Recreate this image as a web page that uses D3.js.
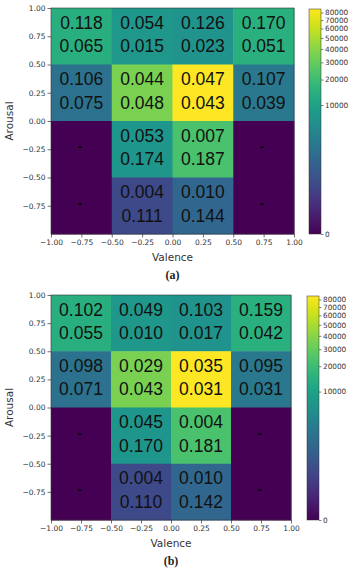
<!DOCTYPE html>
<html>
<head>
<meta charset="utf-8">
<script src="https://cdn.jsdelivr.net/npm/d3@7"></script>
<style>
  body { margin: 0; background: #fff; }
  svg text { fill: #222; }
</style>
</head>
<body>
<div id="chart"></div>
<script>
// bin edges
var valenceEdges = [-1, -0.5, 0, 0.5, 1];
var arousalEdges = [1, 0.5, 0, -0.5, -1];
var axisTicksX = [-1, -0.75, -0.5, -0.25, 0, 0.25, 0.5, 0.75, 1];
var axisTicksY = [1, 0.75, 0.5, 0.25, 0, -0.25, -0.5, -0.75];
var cbarTicks = [0, 10000, 20000, 30000, 40000, 50000, 60000, 70000, 80000];

// counts per cell, rows from top (arousal 0.5..1) down, columns left to right
var countsA = [
  [14500, 7600, 6600, 14800],
  [2000, 36000, 84000, 2500],
  [0, 7200, 23000, 0],
  [0, 260, 1200, 0]
];
var topA = [
  ["0.118", "0.054", "0.126", "0.170"],
  ["0.106", "0.044", "0.047", "0.107"],
  ["", "0.053", "0.007", ""],
  ["", "0.004", "0.010", ""]
];
var bottomA = [
  ["0.065", "0.015", "0.023", "0.051"],
  ["0.075", "0.048", "0.043", "0.039"],
  ["", "0.174", "0.187", ""],
  ["", "0.111", "0.144", ""]
];

var countsB = [
  [14500, 7600, 6600, 14800],
  [2000, 36000, 84000, 2500],
  [0, 7200, 23000, 0],
  [0, 260, 1200, 0]
];
var topB = [
  ["0.102", "0.049", "0.103", "0.159"],
  ["0.098", "0.029", "0.035", "0.095"],
  ["", "0.045", "0.004", ""],
  ["", "0.004", "0.010", ""]
];
var bottomB = [
  ["0.055", "0.010", "0.017", "0.042"],
  ["0.071", "0.043", "0.031", "0.031"],
  ["", "0.170", "0.181", ""],
  ["", "0.110", "0.142", ""]
];

var svg = d3.select("#chart").append("svg")
  .attr("width", 354)
  .attr("height", 568);

var defs = svg.append("defs");

function drawPanel(p) {
  var x = d3.scaleLinear().domain([-1, 1]).range([p.left, p.right]);
  var y = d3.scaleLinear().domain([-1, 1]).range([p.bottom, p.top]);
  var color = d3.scalePow().exponent(0.26).domain([0, 85000]).range([0, 1]);

  var cells = [];
  p.counts.forEach(function(row, i) {
    row.forEach(function(c, j) {
      cells.push({ i: i, j: j, count: c, top: p.topText[i][j], bot: p.botText[i][j] });
    });
  });

  var g = svg.append("g");

  g.selectAll("rect.cell")
    .data(cells)
    .enter()
    .append("rect")
    .attr("class", "cell")
    .attr("x", d => x(valenceEdges[d.j]))
    .attr("y", d => y(arousalEdges[d.i]))
    .attr("width", d => x(valenceEdges[d.j + 1]) - x(valenceEdges[d.j]) + 0.5)
    .attr("height", d => y(arousalEdges[d.i + 1]) - y(arousalEdges[d.i]) + 0.5)
    .attr("fill", d => d3.interpolateViridis(color(d.count)));

  var cx = d => (x(valenceEdges[d.j]) + x(valenceEdges[d.j + 1])) / 2;
  var cy = d => (y(arousalEdges[d.i]) + y(arousalEdges[d.i + 1])) / 2;

  var labelled = cells.filter(d => d.top !== "");
  g.selectAll("text.top")
    .data(labelled)
    .enter()
    .append("text")
    .attr("x", cx)
    .attr("y", d => cy(d) - 7.5)
    .attr("text-anchor", "middle")
    .attr("font-family", "Liberation Sans, Arial, sans-serif")
    .attr("font-size", 17.5)
    .style("fill", "#111")
    .text(d => d.top);
  g.selectAll("text.bot")
    .data(labelled)
    .enter()
    .append("text")
    .attr("x", cx)
    .attr("y", d => cy(d) + 16)
    .attr("text-anchor", "middle")
    .attr("font-family", "Liberation Sans, Arial, sans-serif")
    .attr("font-size", 17.5)
    .style("fill", "#111")
    .text(d => d.bot);

  // empty cells get a dash
  g.selectAll("text.dash")
    .data(cells.filter(d => d.top === ""))
    .enter()
    .append("text")
    .attr("x", d => cx(d) - 1.5)
    .attr("y", d => cy(d) + 1)
    .attr("text-anchor", "middle")
    .attr("font-family", "DejaVu Sans, sans-serif")
    .attr("font-weight", "bold")
    .attr("font-size", 11)
    .style("fill", "#000")
    .text("-");

  // axes
  var fmt = d3.format(".2f");
  var xAxis = g.append("g")
    .attr("transform", `translate(0, ${p.bottom})`)
    .call(d3.axisBottom(x).tickValues(axisTicksX).tickFormat(fmt).tickSize(3.5).tickPadding(2));
  var yAxis = g.append("g")
    .attr("transform", `translate(${p.left}, 0)`)
    .call(d3.axisLeft(y).tickValues(axisTicksY).tickFormat(fmt).tickSize(3.5).tickPadding(2));
  [xAxis, yAxis].forEach(function(a) {
    a.select(".domain").remove();
    a.selectAll("line").attr("stroke", "#333").attr("stroke-width", 0.7);
    a.selectAll("text")
      .attr("font-family", "DejaVu Sans, sans-serif")
      .attr("font-size", 7.5)
      .style("fill", "#333");
  });

  g.append("rect")
    .attr("x", p.left).attr("y", p.top)
    .attr("width", p.right - p.left).attr("height", p.bottom - p.top)
    .attr("fill", "none").attr("stroke", "#333").attr("stroke-width", 0.6);

  g.append("text")
    .attr("x", (p.left + p.right) / 2)
    .attr("y", p.bottom + 27)
    .attr("text-anchor", "middle")
    .attr("font-family", "DejaVu Sans, sans-serif")
    .attr("font-size", 10.5)
    .style("fill", "#333")
    .text("Valence");

  g.append("text")
    .attr("transform", `translate(13, ${(p.top + p.bottom) / 2}) rotate(-90)`)
    .attr("text-anchor", "middle")
    .attr("font-family", "DejaVu Sans, sans-serif")
    .attr("font-size", 10.5)
    .style("fill", "#333")
    .text("Arousal");

  g.append("text")
    .attr("x", (p.left + p.right) / 2)
    .attr("y", p.bottom + 45)
    .attr("text-anchor", "middle")
    .attr("font-family", "Liberation Serif, Times New Roman, serif")
    .attr("font-weight", "bold")
    .attr("font-size", 12)
    .style("fill", "#222")
    .text(p.caption);

  // colorbar
  var cb = d3.scalePow().exponent(0.26).domain([0, 85000]).range([p.bottom, p.top + 1]);
  var gradId = "grad" + p.caption.replace(/\W/g, "");
  var grad = defs.append("linearGradient")
    .attr("id", gradId)
    .attr("x1", 0).attr("y1", 1).attr("x2", 0).attr("y2", 0);
  d3.range(0, 1.0001, 0.05).forEach(function(t) {
    grad.append("stop").attr("offset", t).attr("stop-color", d3.interpolateViridis(t));
  });
  g.append("rect")
    .attr("x", p.cbLeft).attr("y", p.top + 1)
    .attr("width", p.cbWidth).attr("height", p.bottom - p.top - 1)
    .attr("fill", `url(#${gradId})`)
    .attr("stroke", "#333").attr("stroke-width", 0.5);
  var cAxis = g.append("g")
    .attr("transform", `translate(${p.cbLeft + p.cbWidth}, 0)`)
    .call(d3.axisRight(cb).tickValues(cbarTicks).tickFormat(d3.format("d")).tickSize(2.5).tickPadding(1.5));
  cAxis.select(".domain").remove();
  cAxis.selectAll("line").attr("stroke", "#333").attr("stroke-width", 0.6);
  cAxis.selectAll("text")
    .attr("font-family", "DejaVu Sans, sans-serif")
    .attr("font-size", 7.3)
    .style("fill", "#333");
}

drawPanel({ left: 51, right: 294, top: 8, bottom: 234, cbLeft: 309, cbWidth: 12,
  counts: countsA, topText: topA, botText: bottomA, caption: "(a)" });
drawPanel({ left: 51, right: 291, top: 295, bottom: 520, cbLeft: 307, cbWidth: 12,
  counts: countsB, topText: topB, botText: bottomB, caption: "(b)" });
</script>
</body>
</html>
